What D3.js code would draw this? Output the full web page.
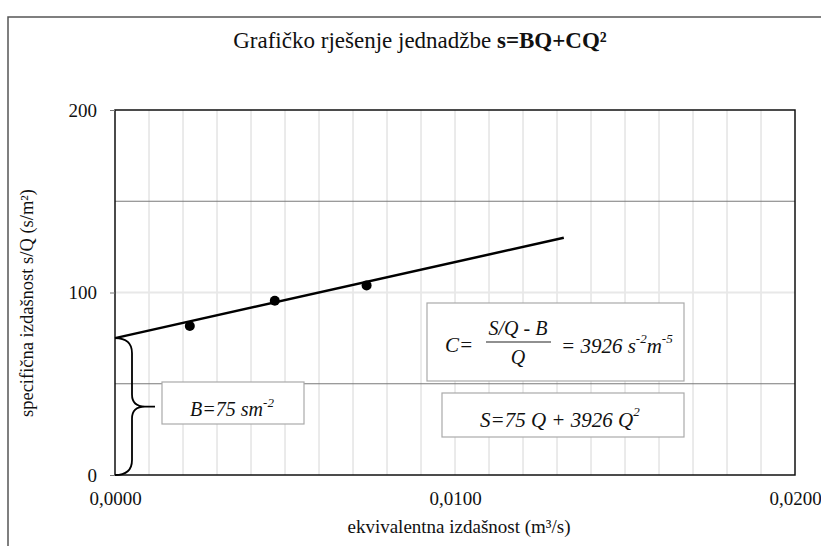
<!DOCTYPE html>
<html>
<head>
<meta charset="utf-8">
<script src="https://cdn.jsdelivr.net/npm/d3@7"></script>
</head>
<body style="margin:0; background:#fff">
<script>
// measured points (Q, s/Q)
var qData = [0.0022, 0.0047, 0.0074];
var sqData = [81.6, 95.5, 103.9];
// fitted line ends
var fitQ = [0, 0.0132];
var fitSQ = [75, 130];
var B = 75, C = 3926;
var xTicks = [0, 0.01, 0.02];
var xTickLabels = ["0,0000", "0,0100", "0,0200"];
var yTicks = [0, 100, 200];
var yGrid = [50, 100, 150];

var W = 821, H = 546;
var pL = 115, pR = 795, pT = 110, pB = 475;
var serif = "Liberation Serif";

var svg = d3.select("body").append("svg")
  .attr("width", W)
  .attr("height", H)
  .style("font-family", serif);

// outer frame (runs off the right and bottom edges)
svg.append("rect")
  .attr("x", 8).attr("y", 17)
  .attr("width", 830).attr("height", 560)
  .attr("fill", "none").attr("stroke", "#555").attr("stroke-width", 1.5);

var x = d3.scaleLinear().domain([0, 0.02]).range([pL, pR]);
var y = d3.scaleLinear().domain([0, 200]).range([pB, pT]);

// vertical grid every 0.001
svg.append("g").selectAll("line")
  .data(d3.range(1, 20).map(function(i) { return i * 0.001; }))
  .enter().append("line")
  .attr("x1", function(d) { return x(d); }).attr("x2", function(d) { return x(d); })
  .attr("y1", pT).attr("y2", pB)
  .attr("stroke", "#d6d6d6").attr("stroke-width", 1);

svg.append("g").selectAll("line")
  .data(yGrid)
  .enter().append("line")
  .attr("x1", pL).attr("x2", pR)
  .attr("y1", function(d) { return y(d); }).attr("y2", function(d) { return y(d); })
  .attr("stroke", function(d) { return d == 100 ? "#e8e8e8" : "#7a7a7a"; })
  .attr("stroke-width", function(d) { return d == 100 ? 2 : 1.2; });

// plot frame
svg.append("rect")
  .attr("x", pL).attr("y", pT)
  .attr("width", pR - pL).attr("height", pB - pT)
  .attr("fill", "none").attr("stroke", "#111").attr("stroke-width", 1.5);

// axes
var yAxis = svg.append("g")
  .attr("transform", "translate(" + pL + ",0)")
  .call(d3.axisLeft(y).tickValues(yTicks).tickSize(5).tickPadding(13));
var xAxis = svg.append("g")
  .attr("transform", "translate(0," + pB + ")")
  .call(d3.axisBottom(x).tickValues(xTicks).tickSize(0)
    .tickFormat(function(d, i) { return xTickLabels[i]; }));
[yAxis, xAxis].forEach(function(a) {
  a.attr("font-family", serif).attr("font-size", 19);
  a.select(".domain").remove();
  a.selectAll("line").attr("stroke", "#777");
  a.selectAll("text").style("font-family", serif).attr("fill", "#111");
});
yAxis.selectAll("text").attr("dy", "0.33em");
xAxis.selectAll("text").attr("y", 30).attr("dy", 0);

// fitted line
var line = d3.line().x(function(d) { return x(d[0]); }).y(function(d) { return y(d[1]); });
svg.append("path")
  .datum(fitQ.map(function(q, i) { return [q, fitSQ[i]]; }))
  .attr("d", line)
  .attr("fill", "none").attr("stroke", "#000").attr("stroke-width", 2.5);

svg.append("g").selectAll("circle")
  .data(qData)
  .enter().append("circle")
  .attr("cx", function(d) { return x(d); })
  .attr("cy", function(d, i) { return y(sqData[i]); })
  .attr("r", 5).attr("fill", "#000");

// curly brace from 0 to B
var bx = x(0), bt = y(B), bb = y(0), bm = y(B / 2);
var w = 17, tip = 40;
var brace = d3.path();
brace.moveTo(bx, bt);
brace.quadraticCurveTo(bx + w, bt, bx + w, bt + 15);
brace.lineTo(bx + w, bm - 12);
brace.quadraticCurveTo(bx + w, bm, bx + tip - 10, bm);
brace.lineTo(bx + tip, bm);
brace.moveTo(bx + tip - 10, bm);
brace.quadraticCurveTo(bx + w, bm, bx + w, bm + 12);
brace.lineTo(bx + w, bb - 15);
brace.quadraticCurveTo(bx + w, bb, bx, bb);
svg.append("path").attr("d", brace.toString())
  .attr("fill", "none").attr("stroke", "#000").attr("stroke-width", 1.8);

function box(x0, y0, x1, y1) {
  svg.append("rect").attr("x", x0).attr("y", y0)
    .attr("width", x1 - x0).attr("height", y1 - y0)
    .attr("fill", "#fff").attr("stroke", "#aaa").attr("stroke-width", 1.2);
}
function txt(xp, yp, size) {
  return svg.append("text").attr("x", xp).attr("y", yp)
    .style("font-family", serif).attr("font-size", size)
    .attr("font-style", "italic").attr("fill", "#111");
}

// B box
box(162, 382, 304, 424);
var tb = txt(232, 416, 20).attr("text-anchor", "middle");
tb.append("tspan").text("B=" + B + " sm");
tb.append("tspan").attr("dy", -9).attr("font-size", 13).text("-2");

// C box
box(427, 303, 684, 381);
txt(445, 352, 21).text("C=");
txt(518, 335, 20).attr("text-anchor", "middle").text("S/Q - B");
svg.append("line").attr("x1", 486).attr("x2", 551).attr("y1", 342).attr("y2", 342)
  .attr("stroke", "#222").attr("stroke-width", 1.2);
txt(518, 364, 20).attr("text-anchor", "middle").text("Q");
var tc = txt(561, 353, 21);
tc.append("tspan").text("= " + C + " s");
tc.append("tspan").attr("dy", -10).attr("font-size", 13).text("-2");
tc.append("tspan").attr("dy", 10).text("m");
tc.append("tspan").attr("dy", -10).attr("font-size", 13).text("-5");

// S box
box(442, 393, 684, 437);
var ts = txt(480, 427, 21);
ts.append("tspan").text("S=" + B + " Q + " + C + " Q");
ts.append("tspan").attr("dy", -11).attr("font-size", 13).text("2");

// title
var tt = svg.append("text").attr("x", 420).attr("y", 48).attr("text-anchor", "middle")
  .style("font-family", serif).attr("font-size", 23).attr("fill", "#111");
tt.append("tspan").text("Grafičko rješenje jednadžbe ");
tt.append("tspan").attr("font-weight", "bold").text("s=BQ+CQ²");

// axis titles
svg.append("text").attr("x", 459).attr("y", 533).attr("text-anchor", "middle")
  .style("font-family", serif).attr("font-size", 19).attr("fill", "#111")
  .text("ekvivalentna izdašnost (m³/s)");
svg.append("text").attr("transform", "translate(33,303) rotate(-90)")
  .attr("text-anchor", "middle")
  .style("font-family", serif).attr("font-size", 18.5).attr("fill", "#111")
  .text("specifična izdašnost s/Q (s/m²)");
</script>
</body>
</html>
